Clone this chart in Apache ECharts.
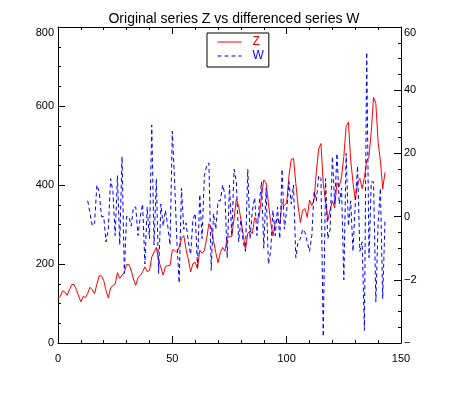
<!DOCTYPE html>
<html>
<head>
<meta charset="utf-8">
<script src="https://cdn.jsdelivr.net/npm/echarts@6/dist/echarts.min.js"></script>
<style>
  html, body { margin: 0; padding: 0; background: #fff; }
  #main { width: 468px; height: 399px; }
</style>
</head>
<body>
<div id="main"></div>
<script>
var titleText = 'Original series Z vs differenced series W';

// original series Z, one value per step starting at x = 0
var zValues = [
  112, 118, 132, 129, 121, 135, 148, 148, 136, 119, 104, 118,
  115, 126, 141, 135, 125, 149, 170, 170, 158, 133, 114, 140,
  145, 150, 178, 163, 172, 178, 199, 199, 184, 162, 146, 166,
  171, 180, 193, 181, 183, 218, 230, 242, 209, 191, 172, 194,
  196, 196, 236, 235, 229, 243, 264, 272, 237, 211, 180, 201,
  204, 188, 235, 227, 234, 264, 302, 293, 259, 229, 203, 229,
  242, 233, 267, 269, 270, 315, 364, 347, 312, 274, 237, 278,
  284, 277, 317, 313, 318, 374, 413, 405, 355, 306, 271, 306,
  315, 301, 356, 348, 355, 422, 465, 467, 404, 347, 305, 336,
  340, 318, 362, 348, 363, 435, 491, 505, 404, 359, 310, 337,
  360, 342, 406, 396, 420, 472, 548, 559, 463, 407, 362, 405,
  417, 391, 419, 461, 472, 535, 622, 606, 508, 461, 390, 432
];

// differenced series W, starts at x = 13
var wStart = 13;
var wValues = [
  5, 1, -3, -2, 10, 8, 0, 0, -8, -4, 12,
  8, -6, 13, -9, 19, -18, 0, 0, -3, 3, 3, -6,
  0, 4, -15, 3, -7, 29, -9, 12, -18, 4, -3, 2,
  -3, -9, 27, 11, -8, -21, 9, -4, -2, -8, -12, -1,
  1, -16, 7, -7, 13, 16, 17, -17, 1, -4, 5, 5,
  10, 7, -13, 10, -6, 15, 11, -8, -1, -8, -11, 15,
  -7, 2, 6, -6, 4, 11, -10, 9, -15, -11, 2, -6,
  3, -7, 15, -4, 2, 11, 4, 10, -13, -8, -7, -4,
  -5, -8, -11, -6, 8, 5, 13, 12, -38, 12, -7, -4,
  19, 4, 20, 4, 9, -20, 20, -3, 5, -11, 4, 16,
  -11, -8, -36, 52, -13, 11, 11, -27, -2, 9, -26, -1
];

// right axis tick labels as printed
var rightTickLabels = { '60': '60', '40': '40', '20': '20', '0': '0', '-20': '\u22122', '-40': '\u2212' };

var chartDom = document.getElementById('main');
var myChart = echarts.init(chartDom, null, { renderer: 'canvas' });
var option;

var labelFont = { color: '#000', fontSize: 11, fontFamily: 'Liberation Sans' };
var tickStyle = { inside: true, length: 7, lineStyle: { color: '#000', width: 1 } };
var axisLineStyle = { show: true, onZero: false, lineStyle: { color: '#000', width: 1 } };

option = {
  animation: false,
  backgroundColor: '#fff',
  title: {
    text: titleText,
    left: 229,
    textAlign: 'center',
    top: 7,
    textStyle: { color: '#000', fontSize: 14, fontWeight: 'normal', fontFamily: 'Liberation Sans' }
  },
  legend: {
    orient: 'vertical',
    left: 207,
    top: 33,
    padding: [3, 5, 5, 10],
    itemGap: 2,
    itemWidth: 24,
    itemHeight: 14,
    borderColor: '#000',
    borderWidth: 1,
    borderRadius: 0,
    itemStyle: { opacity: 0 },
    lineStyle: { width: 1 },
    data: [
      { name: 'Z', textStyle: { color: '#ff0000' } },
      { name: 'W', textStyle: { color: '#0000ff' } }
    ],
    textStyle: { fontSize: 12, fontFamily: 'Liberation Sans', padding: [0, 0, 0, 6] }
  },
  grid: {
    left: 58,
    right: 67,
    top: 27,
    bottom: 56,
    containLabel: false
  },
  xAxis: [
    {
      type: 'value',
      min: 0,
      max: 150,
      interval: 50,
      axisLine: axisLineStyle,
      axisTick: tickStyle,
      minorTick: { show: true, splitNumber: 5, length: 3, lineStyle: { color: '#000' } },
      axisLabel: Object.assign({ margin: 10 }, labelFont),
      splitLine: { show: false }
    },
    {
      type: 'value',
      position: 'top',
      min: 0,
      max: 150,
      interval: 50,
      axisLine: axisLineStyle,
      axisTick: tickStyle,
      minorTick: { show: true, splitNumber: 5, length: 3, lineStyle: { color: '#000' } },
      axisLabel: { show: false },
      splitLine: { show: false }
    }
  ],
  yAxis: [
    {
      type: 'value',
      position: 'left',
      min: 0,
      max: 800,
      interval: 200,
      axisLine: axisLineStyle,
      axisTick: tickStyle,
      minorTick: { show: true, splitNumber: 4, length: 3, lineStyle: { color: '#000' } },
      axisLabel: Object.assign({ margin: 4, verticalAlignMaxLabel: 'top' }, labelFont),
      splitLine: { show: false }
    },
    {
      type: 'value',
      position: 'right',
      min: -40,
      max: 60,
      interval: 20,
      axisLine: axisLineStyle,
      axisTick: tickStyle,
      minorTick: { show: true, splitNumber: 4, length: 3, lineStyle: { color: '#000' } },
      axisLabel: Object.assign({
        margin: 3,
        verticalAlignMaxLabel: 'top',
        formatter: function (v) { return rightTickLabels[String(v)]; }
      }, labelFont),
      splitLine: { show: false }
    }
  ],
  series: [
    {
      name: 'Z',
      type: 'line',
      xAxisIndex: 0,
      yAxisIndex: 0,
      symbol: 'none',
      color: '#ff0000',
      lineStyle: { color: '#ff0000', width: 1 },
      data: zValues.map(function (v, i) { return [i, v]; })
    },
    {
      name: 'W',
      type: 'line',
      xAxisIndex: 0,
      yAxisIndex: 1,
      symbol: 'none',
      color: '#0000ff',
      lineStyle: { color: '#0000ff', width: 1, type: [4, 3] },
      data: wValues.map(function (v, i) { return [i + wStart, v]; })
    }
  ]
};

option && myChart.setOption(option);
</script>
</body>
</html>
